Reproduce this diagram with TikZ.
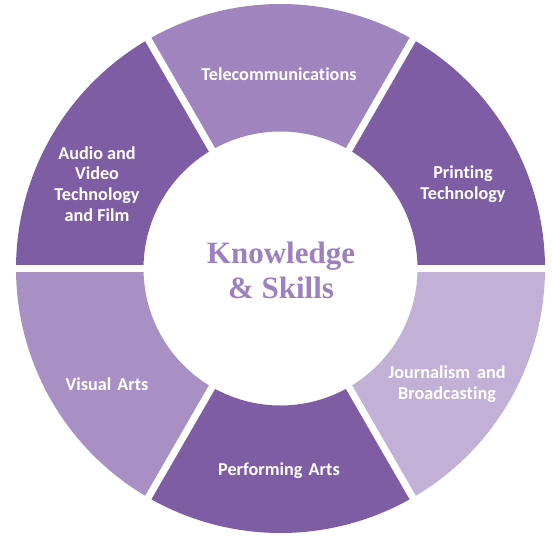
\documentclass[tikz,border=0pt]{standalone}
\usepackage{fontspec}
\setmainfont{Carlito}[Ligatures=NoCommon]
\newfontfamily\titlefont{Liberation Serif}
\definecolor{deeppurple}{HTML}{7F5DA5}
\definecolor{telepurple}{HTML}{A084BE}
\definecolor{visualpurple}{HTML}{A990C4}
\definecolor{palepurple}{HTML}{C2B0D6}
\definecolor{titlepurple}{HTML}{9D80C0}
\begin{document}
\begin{tikzpicture}[x=1pt,y=1pt,line join=round]
	\tikzset{seglabel/.style={text=white,align=center,font=\bfseries\fontsize{18.2}{20.8}\selectfont}}
	\useasboundingbox (0,0) rectangle (553,-535);
	\coordinate (O) at (280.5,-268.5);
	% ring segments
	\foreach \a/\b/\c in {0/60/deeppurple,60/120/telepurple,120/180/deeppurple,180/240/visualpurple,240/300/deeppurple,300/360/palepurple}
	\fill[\c] ([shift={(\a:137)}]O) arc[start angle=\a,end angle=\b,radius=137]
		-- ([shift={(\b:264.5)}]O) arc[start angle=\b,end angle=\a,radius=264.5] -- cycle;
	% white gaps
	\foreach \a in {0,60,...,300}
	\draw[white,line width=7] (O) ++(\a:125) -- ++(\a:150);
	\node[text=titlepurple,align=center,font=\titlefont\bfseries\fontsize{31}{35}\selectfont] (core) at (281,-270) {Knowledge\\\& Skills};
	\node[seglabel] (tele) at (279,-74) {Telecommunications};
	\node[seglabel] (print) at (463,-184) {Printing\\Technology};
	\node[seglabel] (journal) at (447,-384) {Journalism\hspace{3pt} and\\Broadcasting};
	\node[seglabel] (perform) at (279,-471) {Performing\hspace{2pt} Arts};
	\node[seglabel] (visual) at (107,-384) {Visual\hspace{2pt} Arts};
	\node[seglabel] (audio) at (97,-184) {Audio and\\Video\\Technology\\and Film};
\end{tikzpicture}
\end{document}
